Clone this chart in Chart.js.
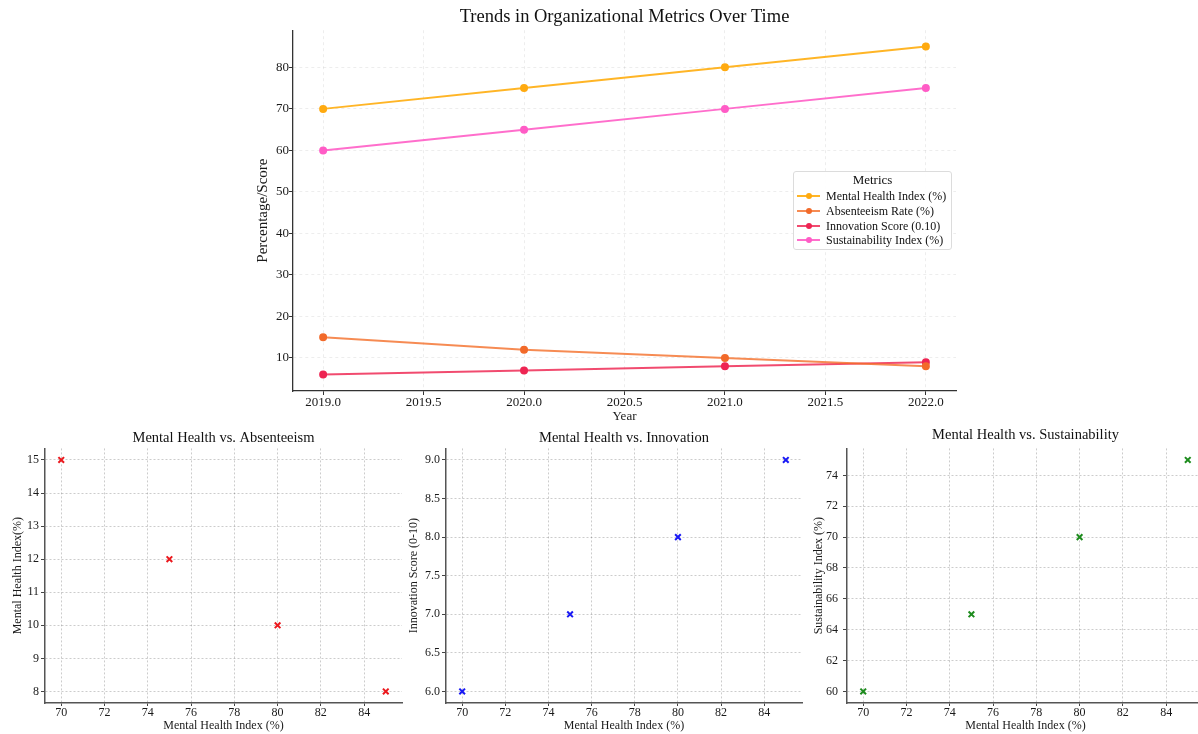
<!DOCTYPE html>
<html>
<head>
<meta charset="utf-8">
<title>Organizational Metrics</title>
<script src="https://cdn.jsdelivr.net/npm/chart.js@4"></script>
<style>
  html, body { margin: 0; padding: 0; background: #fff; overflow: hidden; }
  body { width: 1198px; height: 734px; position: relative; font-family: 'Liberation Serif', 'DejaVu Serif', serif; }
  canvas { position: absolute; }
  #legend {
    position: absolute; left: 793px; top: 171px; width: 157px; height: 77px;
    border: 1px solid #dcdcdc; border-radius: 3px; background: rgba(255,255,255,0.9);
    color: #111; font-size: 12px;
  }
  #legend .title { position: absolute; left: 0; right: 0; top: 0; text-align: center; font-size: 13px; }
  #legend .row { position: absolute; left: 3px; height: 14px; line-height: 14px; white-space: nowrap; }
  #legend .swatch { position: absolute; left: 0; top: 6px; width: 23px; height: 2px; }
  #legend .dot { position: absolute; left: 8.5px; top: -2px; width: 6px; height: 6px; border-radius: 50%; }
  #legend .label { position: absolute; left: 29px; top: 0; }
</style>
</head>
<body>
<canvas id="trend" width="720" height="425" style="left:250px;top:0"></canvas>
<canvas id="absent" width="404" height="309" style="left:0;top:425px"></canvas>
<canvas id="innov" width="404" height="309" style="left:400px;top:425px"></canvas>
<canvas id="sustain" width="406" height="309" style="left:800px;top:425px"></canvas>
<div id="legend"><div class="title">Metrics</div></div>

<script>
// data
const years = [2019, 2020, 2021, 2022];
const mentalHealth = [70, 75, 80, 85];
const absenteeism = [15, 12, 10, 8];
const innovation = [6, 7, 8, 9];
const sustainability = [60, 65, 70, 75];

const seriesNames = ['Mental Health Index (%)', 'Absenteeism Rate (%)', 'Innovation Score (0.10)', 'Sustainability Index (%)'];
const seriesValues = [mentalHealth, absenteeism, innovation, sustainability];
const lineColors = ['rgba(255,168,0,0.85)', 'rgba(244,110,40,0.8)', 'rgba(238,30,75,0.8)', 'rgba(255,85,195,0.85)'];
const dotColors = ['#ffaa10', '#f26a2a', '#ee2553', '#ff5cc6'];

// tick labels
const yearTicks = [2019.0, 2019.5, 2020.0, 2020.5, 2021.0, 2021.5, 2022.0];
const trendTicks = [10, 20, 30, 40, 50, 60, 70, 80];
const mentalTicks = [70, 72, 74, 76, 78, 80, 82, 84];
const absentTicks = [8, 9, 10, 11, 12, 13, 14, 15];
const innovTicks = [6.0, 6.5, 7.0, 7.5, 8.0, 8.5, 9.0];
const sustainTicks = [60, 62, 64, 66, 68, 70, 72, 74];

Chart.defaults.font.family = "'Liberation Serif', 'DejaVu Serif', serif";
Chart.defaults.color = '#1a1a1a';

const fixedTicks = values => scale => { scale.ticks = values.map(v => ({ value: v })); };
const oneDecimal = v => Number(v).toFixed(1);

// top line chart
new Chart(document.getElementById('trend'), {
  type: 'line',
  data: {
    datasets: seriesValues.map((vals, i) => ({
      label: seriesNames[i],
      data: years.map((yr, j) => ({ x: yr, y: vals[j] })),
      borderColor: lineColors[i],
      backgroundColor: dotColors[i],
      pointBackgroundColor: dotColors[i],
      pointBorderColor: dotColors[i],
      borderWidth: 2,
      pointRadius: 3,
      tension: 0
    }))
  },
  options: {
    responsive: false,
    animation: false,
    layout: { autoPadding: false, padding: { left: 0, right: 14, top: 0, bottom: 0 } },
    plugins: {
      legend: { display: false },
      tooltip: { enabled: false },
      title: {
        display: true, fullSize: false,
        text: 'Trends in Organizational Metrics Over Time',
        font: { size: 18.5, weight: 'normal' }, color: '#111',
        padding: { top: 6, bottom: 2 }
      }
    },
    scales: {
      x: {
        type: 'linear', min: 2018.85, max: 2022.15,
        afterBuildTicks: fixedTicks(yearTicks),
        afterFit: s => { s.height = 34; },
        ticks: { callback: oneDecimal, font: { size: 13 }, padding: 0, maxRotation: 0 },
        grid: { color: 'rgba(0,0,0,0.07)', tickColor: '#333', tickLength: 4 },
        border: { display: true, color: '#333', width: 1.3, dash: [3, 3] },
        title: { display: true, text: 'Year', font: { size: 13 }, padding: { top: 0, bottom: 1 } }
      },
      y: {
        type: 'linear', min: 2.05, max: 88.95,
        afterBuildTicks: fixedTicks(trendTicks),
        afterFit: s => { s.width = 43; },
        ticks: { font: { size: 13 }, padding: 0 },
        grid: { color: 'rgba(0,0,0,0.07)', tickColor: '#333', tickLength: 4 },
        border: { display: true, color: '#333', width: 1.3, dash: [3, 3] },
        title: { display: true, text: 'Percentage/Score', font: { size: 15 }, padding: { top: 4, bottom: 0 } }
      }
    }
  }
});

// legend
const legend = document.getElementById('legend');
seriesNames.forEach((name, i) => {
  const row = document.createElement('div');
  row.className = 'row';
  row.style.top = (17 + i * 14.8) + 'px';
  row.innerHTML = '<div class="swatch" style="background:' + lineColors[i] + '"><div class="dot" style="background:' + dotColors[i] + '"></div></div><span class="label">' + name + '</span>';
  legend.appendChild(row);
});

// scatter panels
function scatterPanel(id, title, yValues, yTitle, yMin, yMax, yTicks, yFormat, color, yAxisWidth, yTitlePad, tickPad, titlePad) {
  new Chart(document.getElementById(id), {
    type: 'scatter',
    data: {
      datasets: [{
        data: mentalHealth.map((x, i) => ({ x: x, y: yValues[i] })),
        pointStyle: 'crossRot',
        pointRadius: 4,
        borderWidth: 2,
        borderColor: color,
        backgroundColor: color
      }]
    },
    options: {
      responsive: false,
      animation: false,
      layout: { autoPadding: false, padding: { left: 0, right: 2, top: 0, bottom: 0 } },
      plugins: {
        legend: { display: false },
        tooltip: { enabled: false },
        title: {
          display: true, fullSize: false, text: title,
          font: { size: 14.5, weight: 'normal' }, color: '#111',
          padding: titlePad
        }
      },
      scales: {
        x: {
          type: 'linear', min: 69.25, max: 85.75,
          afterBuildTicks: fixedTicks(mentalTicks),
          afterFit: s => { s.height = 31; },
          ticks: { font: { size: 12 }, padding: 0, maxRotation: 0 },
          grid: { color: 'rgba(0,0,0,0.2)', tickColor: '#444', tickLength: 3 },
          border: { display: true, color: '#555', width: 1.5, dash: [2, 2] },
          title: { display: true, text: 'Mental Health Index (%)', font: { size: 12 }, padding: { top: 0, bottom: 1 } }
        },
        y: {
          type: 'linear', min: yMin, max: yMax,
          afterBuildTicks: fixedTicks(yTicks),
          afterFit: s => { s.width = yAxisWidth; },
          ticks: { font: { size: 12 }, padding: tickPad, callback: yFormat },
          grid: { color: 'rgba(0,0,0,0.2)', tickColor: '#444', tickLength: 4 },
          border: { display: true, color: '#555', width: 1.5, dash: [2, 2] },
          title: { display: true, text: yTitle, font: { size: 12 }, padding: { top: yTitlePad, bottom: 0 } }
        }
      }
    }
  });
}

scatterPanel('absent', 'Mental Health vs. Absenteeism', absenteeism, 'Mental Health Index(%)',
  7.65, 15.35, absentTicks, v => v, 'rgb(235,25,30)', 45, 11, 2, { top: 4, bottom: 2 });
scatterPanel('innov', 'Mental Health vs. Innovation', innovation, 'Innovation Score (0-10)',
  5.85, 9.15, innovTicks, oneDecimal, 'rgb(25,25,245)', 46, 7, 2, { top: 4, bottom: 2 });
scatterPanel('sustain', 'Mental Health vs. Sustainability', sustainability, 'Sustainability Index (%)',
  59.25, 75.75, sustainTicks, v => v, 'rgb(30,140,30)', 47, 12, 5, { top: 1, bottom: 5 });
</script>
</body>
</html>
